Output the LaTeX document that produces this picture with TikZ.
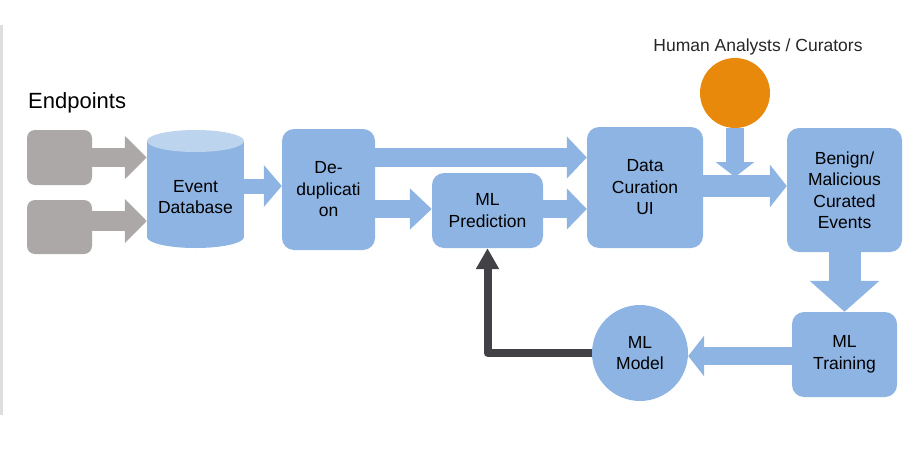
\documentclass[tikz,border=0pt]{standalone}
\usepackage{fontspec}
\setmainfont{Liberation Sans}
\usetikzlibrary{arrows.meta,calc}
\definecolor{boxblue}{RGB}{142,180,227}
\definecolor{lightblue}{RGB}{189,212,238}
\definecolor{epgray}{RGB}{173,168,168}
\definecolor{orng}{RGB}{232,137,12}
\definecolor{darkarrow}{RGB}{65,65,70}
\definecolor{edgegray}{RGB}{222,222,222}
\begin{document}
\begin{tikzpicture}[x=1pt,y=-1pt,
  txt/.style={align=center, font=\fontsize{17.5}{21.5}\selectfont, inner sep=0pt},
  box/.style={txt, fill=boxblue, rounded corners=12pt},
  epbox/.style={fill=epgray, rounded corners=8pt, inner sep=0pt},
  fat/.style args={#1/#2/#3}{draw=boxblue, line width=#1, -{Triangle[length=#2,width=#3]}},
  fatgray/.style args={#1/#2/#3}{draw=epgray, line width=#1, -{Triangle[length=#2,width=#3]}}
]
\useasboundingbox (0,0) rectangle (916,450);
\fill[edgegray] (0,25) rectangle (3,415);

% endpoints
\node[anchor=west, inner sep=0pt, font=\fontsize{22}{26}\selectfont] (eplabel) at (28,103) {Endpoints};
\node[epbox, minimum width=65pt, minimum height=55pt] (ep1) at (59.5,157.5) {};
\node[epbox, minimum width=65pt, minimum height=54pt] (ep2) at (59.5,227) {};

% cylinder
\fill[boxblue] (147,141) rectangle (244,237);
\fill[boxblue] (195.5,237) ellipse [x radius=48.5, y radius=11];
\fill[lightblue] (195.5,141) ellipse [x radius=48.5, y radius=11];
\node[txt, minimum width=97pt, minimum height=100pt] (cyl) at (195.5,197) {Event\\Database};

% boxes
\node[box, minimum width=93pt, minimum height=121pt] (dedup) at (328.5,189.5) {De-\\duplicati\\on};
\node[box, minimum width=111pt, minimum height=75pt] (mlpred) at (487.5,210.5) {ML\\Prediction};
\node[box, minimum width=116pt, minimum height=121pt] (datacur) at (645,187.5) {Data\\Curation\\UI};
\node[box, minimum width=115pt, minimum height=124pt] (benign) at (844.5,190) {Benign/\\Malicious\\Curated\\Events};
\node[box, minimum width=105pt, minimum height=85pt] (mltrain) at (844.5,354.5) {ML\\Training};
\node[txt, circle, fill=boxblue, minimum size=96pt] (mlmodel) at (640,353) {ML\\Model};
\node[circle, fill=orng, minimum size=70pt, inner sep=0pt] (human) at (735,93) {};
\node[txt, text=black!85] (humanlabel) at (758,47) {Human Analysts / Curators};

% endpoint arrows
\draw[fatgray=19pt/22pt/42pt] (ep1.east) -- (ep1.east -| cyl.west);
\draw[fatgray=20pt/22pt/43pt] ($(ep2.east)+(0,-6)$) -- ($(ep2.east -| cyl.west)+(0,-6)$);

% blue arrows
\draw[fat=15pt/18pt/41pt] (cyl.east |- 0,186) -- (dedup.west |- 0,186);
\draw[fat=19pt/20pt/41pt] (dedup.east |- 0,157.5) -- (datacur.west |- 0,157.5);
\draw[fat=18pt/22pt/40pt] (dedup.east |- 0,209) -- (mlpred.west |- 0,209);
\draw[fat=18pt/20pt/40pt] (mlpred.east |- 0,209) -- (datacur.west |- 0,209);
\draw[fat=22pt/17pt/42pt] (datacur.east |- 0,186) -- (benign.west |- 0,186);
\draw[fat=18pt/15pt/38pt] (human.south) -- (human.south |- 0,177);
\draw[fat=32pt/31pt/68pt] (benign.south) -- (mltrain.north);
\draw[fat=18pt/16pt/40pt] (mltrain.west |- 0,356) -- (mlmodel.east |- 0,356);

% feedback arrow
\draw[darkarrow, line width=8pt, line join=round, -{Triangle[length=21pt,width=22pt]}] (mlmodel.west) -| (mlpred.south);
\end{tikzpicture}
\end{document}
